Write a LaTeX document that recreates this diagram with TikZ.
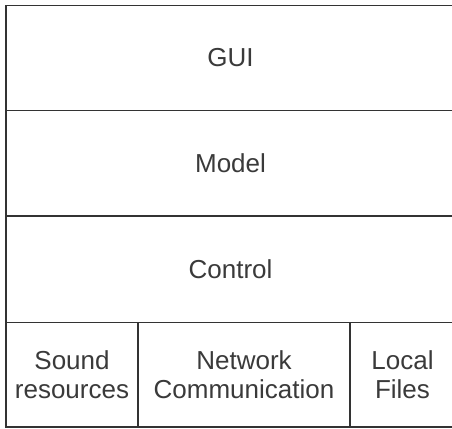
\documentclass[tikz,border=0pt]{standalone}
\usepackage{fontspec}
\setmainfont{Liberation Sans}
\definecolor{layerline}{HTML}{333333}
\definecolor{layertext}{HTML}{3A3A3A}
\newcommand{\layerfont}{\fontsize{26}{29}\selectfont}
\begin{document}
\begin{tikzpicture}[x=1pt,y=1pt,
  layer/.style={draw=layerline,line width=1.6pt,inner sep=0pt,align=center,
    text=layertext,font=\layerfont,minimum width=449pt},
  part/.style={layer,minimum height=104.5pt}]
\useasboundingbox (0,0) rectangle (452,428);
% stacked layers, top to bottom
\node[layer,minimum height=105pt]   (gui)     at (230.5,370)    {GUI};
\node[layer,minimum height=105.5pt] (model)   at (230.5,264.75) {Model};
\node[layer,minimum height=106.5pt] (control) at (230.5,158.75) {Control};
% bottom row split in three
\node[part,minimum width=132pt] (sound)   at (72,53.25)  {Sound\\resources};
\node[part,minimum width=212pt] (network) at (244,53.25) {Network\\Communication};
\node[part,minimum width=105pt] (files)   at (402.5,53.25) {Local\\Files};
\end{tikzpicture}
\end{document}
